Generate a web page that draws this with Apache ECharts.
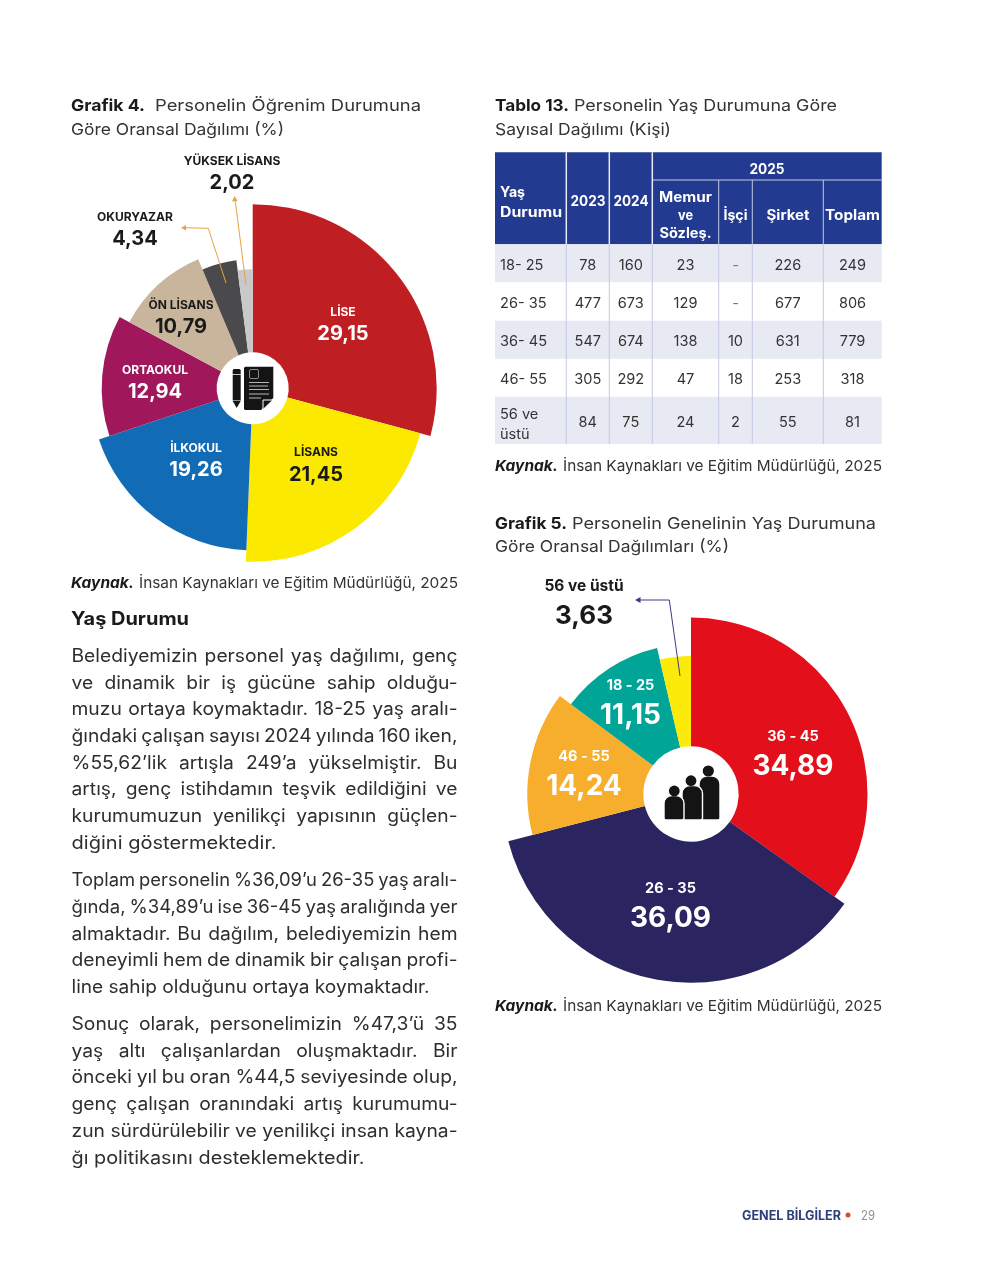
<!DOCTYPE html>
<html><head><meta charset="utf-8">
<style>html,body{margin:0;padding:0;background:#fff}#c{width:1000px;height:1285px}</style>
<script src="https://cdn.jsdelivr.net/npm/echarts@6/dist/echarts.min.js"></script>
</head><body><div id="c"></div>
<script>
// ---------- data ----------
const eduNames  = ['LİSE','LİSANS','İLKOKUL','ORTAOKUL','ÖN LİSANS','OKURYAZAR','YÜKSEK LİSANS'];
const eduValues = [29.15,21.45,19.26,12.94,10.79,4.34,2.02];
const ageNames  = ['36 - 45','26 - 35','46 - 55','18 - 25','56 ve üstü'];
const ageValues = [34.89,36.09,14.24,11.15,3.63];
const tableAges = ['18- 25','26- 35','36- 45','46- 55','56 ve\nüstü'];
const t2023   = ['78','477','547','305','84'];
const t2024   = ['160','673','674','292','75'];
const tMemur  = ['23','129','138','47','24'];
const tIsci   = ['-','-','10','18','2'];
const tSirket = ['226','677','631','253','55'];
const tToplam = ['249','806','779','318','81'];
const para = [
 'Belediyemizin personel yaş dağılımı, genç','ve dinamik bir iş gücüne sahip olduğu-','muzu ortaya koymaktadır. 18-25 yaş aralı-','ğındaki çalışan sayısı 2024 yılında 160 iken,','%55,62’lik artışla 249’a yükselmiştir. Bu','artış, genç istihdamın teşvik edildiğini ve','kurumumuzun yenilikçi yapısının güçlen-','diğini göstermektedir.',
 'Toplam personelin %36,09’u 26-35 yaş aralı-','ğında, %34,89’u ise 36-45 yaş aralığında yer','almaktadır. Bu dağılım, belediyemizin hem','deneyimli hem de dinamik bir çalışan profi-','line sahip olduğunu ortaya koymaktadır.',
 'Sonuç olarak, personelimizin %47,3’ü 35','yaş altı çalışanlardan oluşmaktadır. Bir','önceki yıl bu oran %44,5 seviyesinde olup,','genç çalışan oranındaki artış kurumumu-','zun sürdürülebilir ve yenilikçi insan kayna-','ğı politikasını desteklemektedir.'
];

// ---------- styling & layout ----------
const FF = 'Inter';
const eduColors = ['#bf1e22','#fbea00','#126bb5','#a0175c','#c9b59b','#4a4a4c','#c9c9cb'];
const eduOuter  = [184,173.5,162,151,140,129,119];
const eduLabelXY= [[343,324],[316,464.5],[196,460],[155,382],[181,317],[135,229],[232,173]];
const eduName   = ['#fff','#1a1a1a','#fff','#fff','#1a1a1a','#1a1a1a','#1a1a1a'];
const ageColors = ['#e30f1b','#2a2560','#f7ae2d','#00a597','#fbea0a'];
const ageOuter  = [176.5,188.7,163.7,150,138];
const ageLabelXY= [[793,752.5],[670.5,904.5],[584,773],[630.5,701.5],[584,602]];
const ageName   = ['#fff','#fff','#fff','#fff','#1a1a1a'];
const ageRichOverride = {4:{n:{fontSize:15.5},v:{fontSize:26}}};

function sliceSeries(names, values, colors, outer, inner, center, xy, nameCol, rich, over){
  over = over || {};
  return names.map((_, i) => ({
    type:'pie', center, radius:[inner, outer[i]], startAngle:90, clockwise:true,
    silent:true, animation:false, avoidLabelOverlap:false, labelLine:{show:false},
    emphasis:{disabled:true}, z:2+i,
    labelLayout:{x:xy[i][0], y:xy[i][1], align:'center', verticalAlign:'middle'},
    data:names.map((n, j) => ({
      name:n, value:values[j],
      itemStyle:{color: j===i ? colors[i] : 'rgba(0,0,0,0)'},
      label: j===i ? {
        show:true, position:'inside', align:'center',
        formatter:p => '{n|'+p.name+'}\n{v|'+p.value.toFixed(2).replace('.',',')+'}',
        rich:{
          n:Object.assign({color:nameCol[i], fontFamily:FF, fontWeight:700, align:'center'}, rich.n, over[i]&&over[i].n),
          v:Object.assign({color:nameCol[i], fontFamily:FF, fontWeight:700, align:'center'}, rich.v, over[i]&&over[i].v)
        }
      } : {show:false}
    }))
  }));
}

// ---------- text helpers ----------
const mctx = document.createElement('canvas').getContext('2d');
const fontStr = (size, weight, italic) => (italic?'italic ':'')+(weight||400)+' '+size+'px '+FF;
const measure = (s,f) => { mctx.font=f; return mctx.measureText(s).width; };
const G = [];
const DY = 1.3;
function T(x,y,s,o){
  o=o||{};
  const f=fontStr(o.size||14,o.weight,o.italic);
  const sx=o.w ? o.w/measure(s,f) : (o.sx||1.06);
  G.push({type:'text',x,y:y+DY,scaleX:sx,silent:true,z:20,
    style:{text:s,font:f,fill:o.color||'#2b2b2b',align:o.align||'left',verticalAlign:'middle'}});
}
function J(x,y,line,W,size){
  const f=fontStr(size,400), words=line.split(' ');
  const ws=words.map(w=>measure(w,f));
  const sum=ws.reduce((a,b)=>a+b,0);
  let sx=1.07; const minGap=4;
  if(sum*sx+minGap*(words.length-1)>W) sx=(W-minGap*(words.length-1))/sum;
  const gap=(W-sum*sx)/(words.length-1);
  let cx=x;
  words.forEach((w,i)=>{T(cx,y,w,{size,sx,color:'#2e2e2e'}); cx+=ws[i]*sx+gap;});
}

// titles
const TS=16.5;
T(71,105,'Grafik 4.',{size:TS,weight:700,w:74,color:'#1a1a1a'});
T(155,105,'Personelin Öğrenim Durumuna',{size:TS,w:266,color:'#333'});
T(71,128.5,'Göre Oransal Dağılımı (%)',{size:TS,w:213,color:'#333'});
T(495,105,'Tablo 13.',{size:TS,weight:700,w:74,color:'#1a1a1a'});
T(574,105,'Personelin Yaş Durumuna Göre',{size:TS,w:263,color:'#333'});
T(495,128.5,'Sayısal Dağılımı (Kişi)',{size:TS,w:176,color:'#333'});
T(495,523,'Grafik 5.',{size:TS,weight:700,w:72,color:'#1a1a1a'});
T(572,523,'Personelin Genelinin Yaş Durumuna',{size:TS,w:304,color:'#333'});
T(495,546,'Göre Oransal Dağılımları (%)',{size:TS,w:234,color:'#333'});
// sources
[[71,582.5],[495,465],[495,1005]].forEach(([x,y])=>{
  T(x,y,'Kaynak.',{size:15,weight:700,italic:true,w:63,color:'#1a1a1a'});
  T(x+68,y,'İnsan Kaynakları ve Eğitim Müdürlüğü, 2025',{size:15,w:319,color:'#333'});
});
T(71,618.5,'Yaş Durumu',{size:18.5,weight:700,w:118,color:'#1a1a1a'});
// prose
const lineYs=[655,682,708.5,735,762,788.5,815,842,879.5,906,933,959.5,986,1023.5,1050,1076.5,1103.5,1130,1157];
const lastW={7:205,12:358,18:293};
para.forEach((l,i)=>{
  if(lastW[i]) T(71.5,lineYs[i],l,{size:18,w:lastW[i],color:'#2e2e2e'});
  else J(71.5,lineYs[i],l,386,18);
});
// footer
T(742,1215,'GENEL BİLGİLER',{size:12.5,weight:700,w:99,color:'#2c3e7b'});
G.push({type:'circle',shape:{cx:848,cy:1215,r:2.5},style:{fill:'#e0482a'},silent:true});
T(861,1215,'29',{size:13,w:14,color:'#8a8f9c'});

// table
const colX=[495,566.3,609.3,652.3,718.7,752.3,823.3,881.7];
const rowY=[244.3,282.3,320.7,358.7,396.7,444];
const HD='#223a8f', SH='#e7eaf3', VL='#c5cae3';
const rect=(x,y,w,h,fill,z)=>G.push({type:'rect',shape:{x,y,width:w,height:h},style:{fill},silent:true,z:z||10});
rect(495,152.3,881.7-495,244.3-152.3,HD);
rect(652.3,179.6,881.7-652.3,1,'#c5cae3',11);
[1,2,3].forEach(i=>rect(colX[i]-0.75,152.3,1.5,92,'#e9ebf5',11));
[4,5,6].forEach(i=>rect(colX[i]-0.5,180,1,64.3,'#c5cae3',11));
for(let r=0;r<5;r+=2) rect(495,rowY[r],881.7-495,rowY[r+1]-rowY[r],SH);
for(let i=1;i<7;i++) rect(colX[i]-0.5,244.3,1,444-244.3,VL,11);
const HS=14;
const H=(x,y,s,w,a)=>T(x,y,s,{size:HS,weight:700,color:'#fff',align:a||'center',w});
H(500,191,'Yaş',25,'left');H(500,211,'Durumu',62,'left');
H(588,200.5,'2023',35);H(631,200.5,'2024',35);H(767,168.5,'2025',35);
H(685.5,196,'Memur',53);H(685.5,214.5,'ve',15);H(685.5,232.5,'Sözleş.',52);
H(735.5,214.5,'İşçi',24);H(788,214.5,'Şirket',43);H(852.5,214.5,'Toplam',55);
[t2023,t2024,tMemur,tIsci,tSirket,tToplam].forEach((col,c)=>{
  const cx=(colX[c+1]+colX[c+2])/2;
  col.forEach((v,r)=>T(cx,(rowY[r]+rowY[r+1])/2+1,v,{size:14,color:v==='-'?'#777':'#333',align:'center',sx:1.04}));
});
tableAges.forEach((a,r)=>{
  const parts=a.split('\n');
  if(parts.length===1) T(500,(rowY[r]+rowY[r+1])/2+1,a,{size:14,color:'#333',sx:1.04});
  else{T(500,413,parts[0],{size:14,color:'#333',sx:1.04});T(500,433,parts[1],{size:14,color:'#333',sx:1.04});}
});

// leader lines
function arrow(points,color,head){
  G.push({type:'polyline',shape:{points},style:{stroke:color,lineWidth:1,fill:null},silent:true,z:15});
  G.push({type:'polygon',shape:{points:head},style:{fill:color},silent:true,z:15});
}
arrow([[226,283],[208.3,228.3],[184,227.7]],'#e8a33d',[[181,227.7],[186,225],[186,230.4]]);
arrow([[246,285],[235,199]],'#e8a33d',[[234.6,196],[232,201.5],[237.5,201]]);
arrow([[680,676],[669.3,600],[639,600]],'#3b3a8c',[[635,600],[640.5,597],[640.5,603]]);

// document icon
const K='#141414';
rect(232.7,375,8,25.5,K,16);
G.push({type:'rect',shape:{x:232.7,y:369,width:8,height:5.2,r:[1.5,1.5,0,0]},style:{fill:K},silent:true,z:16});
G.push({type:'polygon',shape:{points:[[232.7,401],[240.7,401],[236.7,408]]},style:{fill:K},silent:true,z:16});
G.push({type:'polygon',shape:{points:[[245,366.7],[273.3,366.7],[273.3,398],[261,410],[245,410],[244,409],[244,368]]},style:{fill:K},silent:true,z:16});
G.push({type:'rect',shape:{x:249.5,y:369.5,width:9,height:9,r:1.5},style:{fill:null,stroke:'#8b8b8b',lineWidth:1},silent:true,z:17});
[[382,20],[385.5,19],[389,20]].forEach(([y,w])=>rect(249,y,w,1,'#b5b5b5',17));
[[393,20],[397,12]].forEach(([y,w])=>rect(249,y,w,2,'#666',17));
G.push({type:'polygon',shape:{points:[[263,409.5],[263,400],[272.8,400]]},style:{fill:K,stroke:'#fff',lineWidth:1},silent:true,z:17});

// people icon
function person(hx,hy,hr,x,y,w,h,z){
  G.push({type:'rect',shape:{x,y,width:w,height:h,r:[8,8,2,2]},style:{fill:K,stroke:'#fff',lineWidth:1.4},silent:true,z});
  G.push({type:'circle',shape:{cx:hx,cy:hy,r:hr},style:{fill:K},silent:true,z});
}
person(708.3,771,5.6,699,776,21,44,16);
person(691,780.7,5.4,682,785.5,20.5,34.5,17);
person(674.3,791,5.4,664,795.5,20,24.5,18);

const chart=echarts.init(document.getElementById('c'),null,{renderer:'canvas',width:1000,height:1285});
chart.setOption({
  animation:false, backgroundColor:'#fff',
  series:[
    ...sliceSeries(eduNames,eduValues,eduColors,eduOuter,36,[252.7,388.3],eduLabelXY,eduName,
      {n:{fontSize:12,lineHeight:20},v:{fontSize:20,lineHeight:24}}),
    ...sliceSeries(ageNames,ageValues,ageColors,ageOuter,47.7,[691,794],ageLabelXY,ageName,
      {n:{fontSize:14.5,lineHeight:28},v:{fontSize:28,lineHeight:32}},ageRichOverride)
  ],
  graphic:{elements:G}
});
</script></body></html>
